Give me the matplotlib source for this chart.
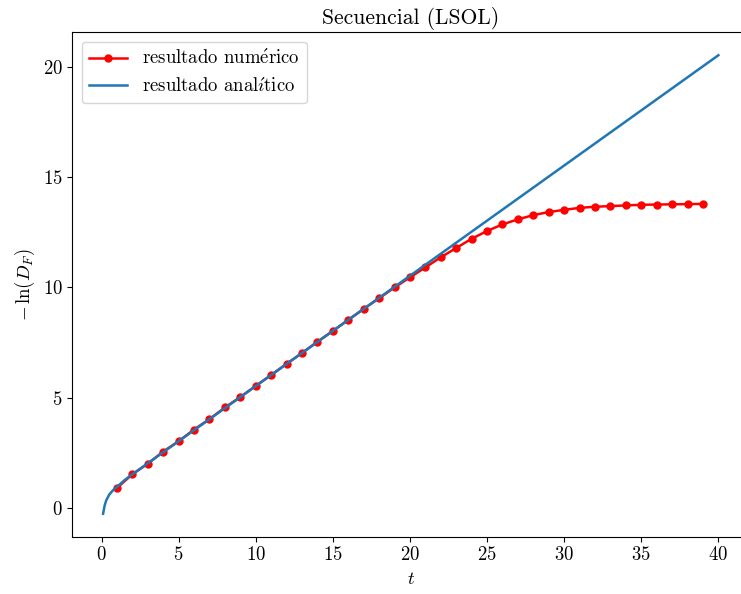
import numpy as np
import matplotlib
matplotlib.use('Agg')
import matplotlib.pyplot as plt

plt.rcParams['font.family'] = ['cmr10', 'DejaVu Serif']
plt.rcParams['mathtext.fontset'] = 'cm'
plt.rcParams['axes.formatter.use_mathtext'] = True
plt.rcParams['axes.unicode_minus'] = False

# numerical result, one point per unit time
t_num = np.arange(1, 40)
y_num = [0.90, 1.52, 2.00, 2.55, 3.02, 3.55, 4.02, 4.55, 5.02, 5.53,
         6.02, 6.53, 7.02, 7.53, 8.02, 8.52, 9.02, 9.50, 9.99, 10.45,
         10.90, 11.36, 11.78, 12.20, 12.55, 12.85, 13.08, 13.27, 13.41, 13.51,
         13.60, 13.65, 13.68, 13.71, 13.74, 13.75, 13.76, 13.77, 13.78]

# analytic result
t_ana = [0.1, 0.2, 0.3, 0.5, 0.75, 1.0, 1.5, 2.0, 3.0, 5.0, 10.0, 20.0, 30.0, 40.0]
y_ana = [-0.27, 0.10, 0.33, 0.60, 0.80, 0.95, 1.26, 1.52, 2.02, 3.02, 5.52, 10.52, 15.52, 20.52]

fig, ax = plt.subplots(figsize=(7.41, 5.94), dpi=100)
fig.subplots_adjust(left=0.0976, right=1.011, top=0.9456, bottom=0.0965)

ax.plot(t_num, y_num, 'o-', color='red', lw=1.8, ms=5, label=r'resultado num$\mathrm{\acute{e}}$rico')
ax.plot(t_ana, y_ana, '-', color='#1f77b4', lw=1.8, label=r'resultado anal$\mathrm{\acute{\imath}}$tico')

ax.set_title('Secuencial (LSOL)', fontsize=15.5)
ax.set_xlabel('$t$', fontsize=13.5)
ax.set_ylabel(r'$-\,\ln(D_F)$', fontsize=13.5)
ax.tick_params(labelsize=13.5)
ax.set_xticks(range(0, 41, 5))
ax.set_yticks(range(0, 21, 5))
ax.legend(fontsize=13.5, loc='upper left')

fig.savefig('out.png', dpi=100)
